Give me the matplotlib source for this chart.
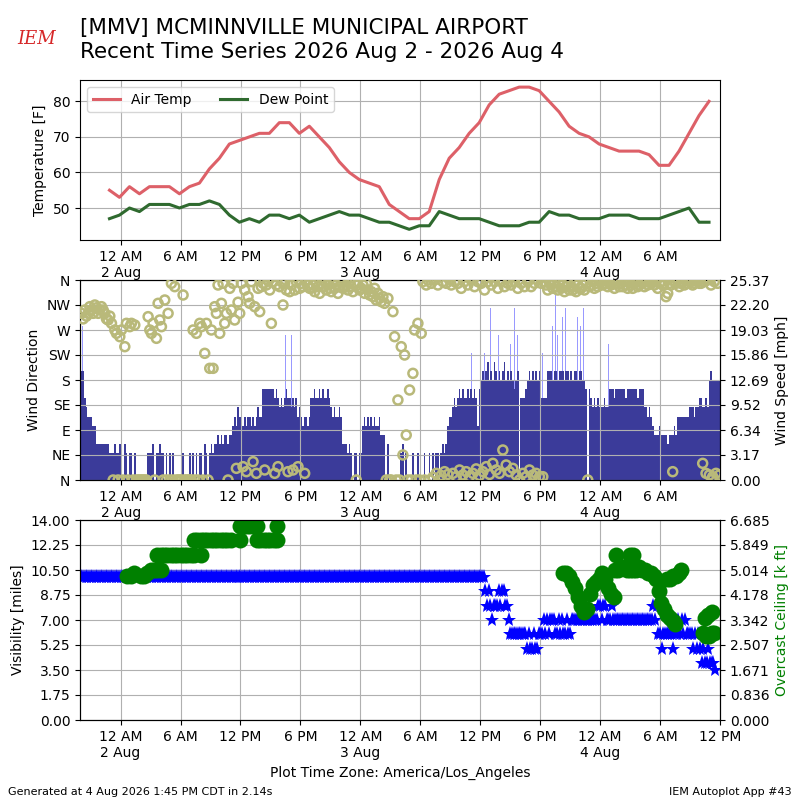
"""MMV recent time series (autoplot 43 style): temp/dew, wind, visibility/ceiling."""
from datetime import datetime, timedelta

import matplotlib
matplotlib.use("Agg")
import matplotlib.dates as mdates
import matplotlib.pyplot as plt
from matplotlib.ticker import FuncFormatter, FormatStrFormatter
import numpy as np
import pandas as pd

BASE = datetime(2026, 8, 2, 0, 0)
XMIN = datetime(2026, 8, 1, 19, 56)
XMAX = datetime(2026, 8, 4, 12, 0)

# hourly obs starting 2026-08-01 22:53
temp_start = datetime(2026, 8, 1, 22, 53)
air_temp = [55, 53, 56, 54, 56, 56, 56, 54, 56, 57,
            61, 64, 68, 69, 70, 71, 71, 74, 74, 71,
            73, 70, 67, 63, 60, 58, 57, 56, 51, 49,
            47, 47, 49, 58, 64, 67, 71, 74, 79, 82,
            83, 84, 84, 83, 80, 77, 73, 71, 70, 68,
            67, 66, 66, 66, 65, 62, 62, 66, 71, 76, 80]
dew_point = [47, 48, 50, 49, 51, 51, 51, 50, 51, 51,
             52, 51, 48, 46, 47, 46, 48, 48, 47, 48,
             46, 47, 48, 49, 48, 48, 47, 46, 46, 45,
             44, 45, 45, 49, 48, 47, 47, 47, 46, 45,
             45, 45, 46, 46, 49, 48, 48, 47, 47, 47,
             48, 48, 48, 47, 47, 47, 48, 49, 50, 46, 46]

# 10-minute wind starting 2026-08-01 20:00, one row per hour
wind_start = datetime(2026, 8, 1, 20, 0)
wind_kt = [
    12, 12, 9, 8, 7, 7,        # 20 Aug 1
    7, 6, 6, 4, 4, 4,
    4, 4, 4, 4, 4, 3,
    3, 3, 4, 3, 3, 4,
    3, 0, 4, 3, 0, 3,          # 00 Aug 2
    3, 0, 3, 0, 0, 0,
    0, 0, 0, 0, 3, 3,
    3, 4, 0, 3, 3, 4,
    3, 3, 0, 3, 0, 3,
    0, 3, 0, 0, 0, 0,
    0, 3, 0, 0, 0, 3,          # 06
    0, 3, 0, 3, 0, 3,
    3, 0, 4, 3, 0, 3,
    4, 3, 4, 4, 5, 4,
    5, 4, 5, 5, 4, 5,
    5, 6, 7, 6, 8, 7,
    7, 6, 7, 6, 7, 7,          # 12
    6, 7, 6, 7, 8, 7,
    7, 10, 10, 10, 10, 10,
    10, 10, 9, 10, 9, 8,
    9, 8, 9, 10, 9, 9,
    8, 9, 8, 9, 7, 8,
    7, 6, 7, 7, 6, 7,          # 18
    9, 9, 10, 9, 9, 10,
    9, 10, 9, 9, 10, 9,
    8, 7, 8, 7, 7, 8,
    7, 4, 4, 4, 3, 4,
    3, 0, 3, 3, 0, 3,
    3, 6, 7, 6, 7, 6,          # 00 Aug 3
    7, 6, 7, 6, 6, 7,
    5, 5, 5, 0, 4, 0,
    0, 0, 0, 0, 0, 0,
    3, 4, 0, 3, 0, 0,
    0, 3, 0, 0, 3, 0,
    0, 0, 3, 0, 0, 3,          # 06
    0, 3, 0, 3, 3, 0,
    3, 4, 3, 4, 6, 7,
    7, 8, 9, 8, 9, 10,
    9, 10, 9, 9, 10, 9,
    10, 9, 10, 9, 6, 10,
    11, 12, 11, 12, 13, 11,    # 12
    12, 11, 13, 12, 11, 12,
    11, 12, 13, 11, 12, 11,
    12, 11, 10, 11, 12, 0,
    9, 9, 9, 10, 11, 12,
    11, 12, 11, 12, 11, 12,
    9, 9, 9, 9, 12, 12,        # 18
    12, 11, 12, 12, 11, 12,
    12, 12, 11, 12, 12, 11,
    12, 11, 12, 12, 11, 12,
    12, 11, 11, 10, 0, 10,
    9, 8, 9, 8, 9, 8,
    8, 8, 9, 8, 8, 10,         # 00 Aug 4
    10, 10, 9, 10, 10, 10,
    10, 10, 10, 9, 10, 10,
    10, 10, 10, 10, 9, 10,
    10, 10, 8, 8, 7, 8,
    7, 6, 5, 5, 5, 6,
    5, 5, 5, 5, 4, 5,          # 06
    5, 5, 6, 5, 7, 7,
    7, 7, 7, 7, 7, 8,
    8, 8, 7, 8, 8, 9,
    9, 8, 8, 9, 8, 11,
    12, 11, 11, 11, 11, 11,
]
wind_dir = [
    300, 290, 306, 295, 300, 312,   # 20 Aug 1
    306, 300, 315, 310, 300, 306,
    312, 306, 300, 290, 288, 295,
    282, 0, 270, 264, 0, 258,
    270, 0, 240, 282, 0, 276,       # 00 Aug 2
    282, 0, 279, 0, 0, 0,
    0, 0, 0, 0, 294, 270,
    264, 282, 0, 255, 318, 288,
    276, 0, 324, 0, 300, 0,
    354, 0, 348, 0, 0, 0,
    0, 333, 0, 0, 0, 0,             # 06
    0, 270, 0, 264, 0, 282,
    276, 0, 228, 282, 0, 201,
    270, 201, 312, 300, 351, 264,
    318, 354, 282, 300, 0, 345,
    306, 354, 288, 21, 320, 300,
    354, 24, 342, 15, 330, 318,     # 12
    357, 33, 312, 12, 345, 303,
    348, 354, 18, 351, 360, 342,
    282, 357, 12, 351, 24, 348,
    357, 315, 354, 342, 15, 339,
    351, 18, 342, 357, 24, 345,
    354, 348, 12, 360, 351, 345,    # 18
    345, 351, 339, 357, 348, 336,
    354, 348, 357, 342, 351, 345,
    339, 354, 345, 351, 336, 348,
    357, 345, 348, 351, 342, 357,
    348, 339, 354, 0, 351, 342,
    345, 351, 336, 354, 342, 333,   # 00 Aug 3
    339, 330, 345, 324, 336, 327,
    321, 330, 318, 0, 327, 0,
    0, 303, 258, 0, 144, 0,
    240, 45, 225, 81, 0, 162,
    0, 192, 270, 0, 282, 0,
    264, 357, 0, 351, 360, 0,       # 06
    354, 5, 360, 12, 351, 0,
    8, 357, 15, 354, 10, 360,
    351, 12, 357, 6, 354, 18,
    345, 9, 357, 15, 351, 6,
    360, 12, 348, 20, 357, 8,
    354, 15, 342, 24, 357, 10,      # 12
    351, 30, 357, 18, 345, 12,
    357, 54, 348, 27, 354, 15,
    351, 21, 357, 9, 345, 0,
    354, 12, 348, 6, 357, 18,
    348, 9, 354, 12, 360, 6,
    354, 6, 357, 351, 342, 357,     # 18
    351, 345, 357, 348, 342, 354,
    345, 351, 339, 348, 354, 342,
    348, 342, 354, 339, 351, 345,
    345, 351, 342, 354, 0, 348,
    351, 357, 345, 354, 348, 360,
    357, 351, 354, 360, 348, 354,   # 00 Aug 4
    351, 357, 345, 354, 360, 348,
    354, 348, 357, 351, 345, 357,
    351, 345, 354, 357, 348, 351,
    357, 354, 348, 360, 351, 357,
    354, 360, 351, 357, 345, 354,
    357, 351, 354, 330, 336, 354,   # 06
    351, 15, 357, 354, 360, 348,
    354, 357, 351, 360, 354, 357,
    357, 351, 354, 360, 357, 354,
    354, 30, 357, 12, 360, 9,
    351, 6, 357, 12, 354, 9,
]

# gusts: hours after 2026-08-02 00:00, knots
gust_hours = [-3.8, 16.5, 17.1, 35.1, 36.4, 37.0, 37.8, 39.0, 39.4, 39.7,
              42.2, 43.2, 43.5, 43.7, 44.2, 44.5, 45.7, 46.0, 46.3, 48.8]
gust_kt = [17, 16, 16, 14, 14, 19, 16, 15, 19, 16,
           14, 17, 21, 16, 18, 19, 18, 17, 19, 15]

# 10-minute visibility starting 2026-08-01 20:00 (miles)
vis_start = datetime(2026, 8, 1, 20, 0)
visibility = [10.0] * 240 + [
    10, 10, 10, 9, 8, 9,      # 12 Aug 3
    8, 7, 8, 8, 8, 9,
    8, 9, 9, 8, 8, 7,
    6, 6, 6, 6, 6, 6,
    6, 6, 6, 6, 5, 6,
    5, 5, 6, 5, 5, 6,
    6, 6, 7, 6, 7, 6,         # 18
    7, 7, 7, 6, 6, 7,
    6, 7, 6, 6, 7, 6,
    6, 7, 7, 7, 7, 7,
    7, 7, 7, 7, 7, 7,
    7, 7, 7, 7, 7, 8,
    8, 7, 8, 8, 7, 7,         # 00 Aug 4
    7, 8, 7, 7, 7, 7,
    7, 7, 7, 7, 7, 7,
    7, 7, 7, 7, 7, 7,
    7, 7, 7, 7, 7, 7,
    7, 7, 8, 7, 8, 6,
    6, 5, 6, 6, 6, 6,         # 06
    6, 6, 5, 6, 6, 7,
    6, 7, 6, 7, 6, 6,
    6, 6, 5, 6, 5, 6,
    5, 4, 5, 4, 4, 5,
    4, 4, 4, 3.5,
]

# overcast ceiling obs: hours after 2026-08-02 00:00, k ft
ceil_hours = [0.67, 1.0, 1.33, 2.0, 2.33, 2.67, 3.0, 3.33, 3.67, 4.0,
              3.67, 4.0, 4.33, 4.67, 5.0, 5.33, 5.67, 6.0, 6.33, 6.67, 7.0, 7.33, 8.0,
              7.33, 7.67, 8.0, 8.33, 8.67, 9.0, 9.33, 9.67, 10.0, 10.33, 10.67, 11.0, 12.0,
              13.67, 14.0, 14.33, 14.67, 15.0, 15.33, 15.67,
              12.0, 12.33, 12.67, 13.0, 13.33, 13.67, 15.67,
              44.3, 44.6, 44.9, 45.2, 45.5, 45.8, 46.1, 46.4, 46.7, 47.0,
              47.3, 47.6, 47.9, 48.2, 48.5, 48.8, 49.1, 49.4,
              49.5, 49.8, 50.1, 50.4, 50.7, 51.0, 51.3, 51.6, 51.9, 52.2,
              52.5, 52.8, 53.1, 53.4, 49.6, 51.0, 51.3,
              53.6, 53.9, 54.1, 54.4, 54.7, 55.0, 55.3, 55.5,
              54.7, 55.0, 55.3, 55.6, 55.9, 56.1,
              58.3, 58.6, 58.9, 59.2, 59.4, 58.5, 58.8, 59.2]
ceil_kft = [4.8, 4.8, 4.9, 4.8, 4.8, 4.9, 5.0, 5.0, 5.0, 5.0,
            5.5, 5.5, 5.5, 5.5, 5.5, 5.5, 5.5, 5.5, 5.5, 5.5, 5.5, 5.5, 5.5,
            6.0, 6.0, 6.0, 6.0, 6.0, 6.0, 6.0, 6.0, 6.0, 6.0, 6.0, 6.0, 6.0,
            6.0, 6.0, 6.0, 6.0, 6.0, 6.0, 6.0,
            6.5, 6.5, 6.5, 6.5, 6.5, 6.5, 6.5,
            4.9, 4.9, 4.8, 4.6, 4.4, 4.1, 3.8, 3.6, 3.7, 4.2,
            4.5, 4.6, 4.7, 4.9, 4.7, 4.4, 4.2, 4.1,
            5.0, 5.0, 5.1, 5.1, 5.0, 5.0, 5.0, 5.0, 5.1, 5.0,
            5.0, 4.9, 4.9, 4.8, 5.5, 5.5, 5.5,
            4.7, 4.3, 3.9, 3.7, 3.5, 3.4, 3.3, 3.2,
            4.7, 4.7, 4.8, 4.8, 4.9, 5.0,
            2.9, 2.8, 2.8, 2.9, 2.9, 3.4, 3.5, 3.6]

DIR_LABELS = ["N", "NE", "E", "SE", "S", "SW", "W", "NW", "N"]
KT2MPH = 1.1508
SPEED_TOP = 25.374
CEIL_TOP = 6.685


def time_fmt(x, pos):
    d = mdates.num2date(x)
    lab = {0: "12 AM", 6: "6 AM", 12: "12 PM", 18: "6 PM"}.get(d.hour, "")
    if d.hour == 0:
        lab += f"\n{d.day} Aug"
    return lab


def setup_time(ax, xmax):
    ax.set_xlim(XMIN, xmax)
    ax.xaxis.set_major_locator(mdates.HourLocator(byhour=[0, 6, 12, 18]))
    ax.xaxis.set_major_formatter(FuncFormatter(time_fmt))
    ax.grid(True, color="#b0b0b0", linewidth=0.8)


fig = plt.figure(figsize=(8, 8), dpi=100)

# temperature
ax1 = fig.add_axes([0.1, 0.7, 0.8, 0.2])
tt = [temp_start + timedelta(hours=i) for i in range(len(air_temp))]
ax1.plot(tt, air_temp, color="#DD6068", linewidth=2.2, label="Air Temp")
ax1.plot(tt, dew_point, color="#2F6A2F", linewidth=2.2, label="Dew Point")
ax1.set_ylim(41, 86)
ax1.set_yticks([50, 60, 70, 80])
ax1.set_ylabel("Temperature [F]")
setup_time(ax1, datetime(2026, 8, 4, 11, 59))
ax1.legend(loc="upper left", ncol=2)

# wind
ax2 = fig.add_axes([0.1, 0.4, 0.8, 0.25])
ax2b = ax2.twinx()
wt = pd.date_range(wind_start, periods=len(wind_kt), freq="10min")
gt = [BASE + timedelta(hours=h) for h in gust_hours]
ax2b.bar(gt, np.array(gust_kt) * KT2MPH, width=6 / 1440, color="#9999FF",
         linewidth=0, zorder=1)
ax2b.bar(wt, np.array(wind_kt) * KT2MPH, width=10 / 1440, align="edge",
         color="#3B3B9A", linewidth=0, zorder=2)
ax2b.set_ylim(0, SPEED_TOP)
ax2b.set_yticks(np.linspace(0, SPEED_TOP, 9))
ax2b.yaxis.set_major_formatter(FormatStrFormatter("%.2f"))
ax2b.set_ylabel("Wind Speed [mph]")
ax2.scatter(wt + pd.Timedelta(minutes=5), wind_dir, s=42, facecolors="none",
            edgecolors="#B9B97A", linewidths=1.8, zorder=3)
ax2.set_ylim(0, 360)
ax2.set_yticks(range(0, 361, 45))
ax2.set_yticklabels(DIR_LABELS)
ax2.set_ylabel("Wind Direction")
ax2.set_zorder(ax2b.get_zorder() + 1)
ax2.patch.set_visible(False)
setup_time(ax2, datetime(2026, 8, 4, 11, 59))
ax2b.set_xlim(ax2.get_xlim())

# visibility / ceiling
ax3 = fig.add_axes([0.1, 0.1, 0.8, 0.25])
ax3b = ax3.twinx()
vt = pd.date_range(vis_start, periods=len(visibility), freq="10min")
ax3.plot(vt, visibility, linestyle="none", marker="*", markersize=11,
         color="b", markeredgewidth=0)
ax3.set_ylim(0, 14)
ax3.set_yticks(np.linspace(0, 14, 9))
ax3.yaxis.set_major_formatter(FormatStrFormatter("%.2f"))
ax3.set_ylabel("Visibility [miles]")
ct = [BASE + timedelta(hours=h) for h in ceil_hours]
ax3b.plot(ct, ceil_kft, linestyle="none", marker="o", markersize=11.5,
          color="g", markeredgewidth=0)
ax3b.set_ylim(0, CEIL_TOP)
ax3b.set_yticks(np.linspace(0, CEIL_TOP, 9))
ax3b.yaxis.set_major_formatter(FormatStrFormatter("%.3f"))
ax3b.set_ylabel("Overcast Ceiling [k ft]", color="g")
setup_time(ax3, XMAX)
ax3b.set_xlim(ax3.get_xlim())
ax3.set_xlabel("Plot Time Zone: America/Los_Angeles")

fig.text(0.1, 0.978, "[MMV] MCMINNVILLE MUNICIPAL AIRPORT\n"
         "Recent Time Series 2026 Aug 2 - 2026 Aug 4",
         fontsize=15.5, va="top", ha="left", linespacing=1.25)
fig.text(0.022, 0.945, "IEM", color="#d62728", fontsize=13, style="italic",
         family="serif", ha="left")
fig.text(0.01, 0.006, "Generated at 4 Aug 2026 1:45 PM CDT in 2.14s", fontsize=8)
fig.text(0.99, 0.006, "IEM Autoplot App #43", fontsize=8, ha="right")

fig.savefig("out.png")
